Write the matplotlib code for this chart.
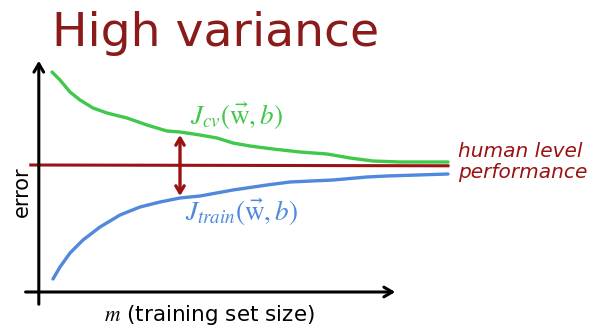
import numpy as np
import matplotlib.pyplot as plt

# values, in units where m axis origin = 0
cv_m = [0.35, 0.55, 0.8, 1.05, 1.375, 1.725, 2.225, 2.725, 3.225, 3.55, 4.05, 4.475,
        4.875, 5.3, 5.875, 6.55, 7.225, 7.8, 8.375, 9.05, 10.25]
cv_err = [2.20, 2.12, 2.00, 1.92, 1.84, 1.79, 1.74, 1.67, 1.61, 1.60, 1.57, 1.54,
          1.49, 1.46, 1.43, 1.40, 1.38, 1.34, 1.31, 1.30, 1.30]

train_m = [0.375, 0.55, 0.8, 1.125, 1.55, 2.05, 2.55, 3.05, 3.55, 4.05, 4.875, 5.725,
           6.3, 7.375, 8.225, 8.725, 10.25]
train_err = [0.13, 0.25, 0.39, 0.52, 0.65, 0.77, 0.85, 0.90, 0.94, 0.96, 1.02, 1.07,
             1.10, 1.12, 1.15, 1.16, 1.18]

human_m = [-0.18, 10.25]
human_err = [1.27, 1.262]

gap_m = 3.55
gap_err = [1.57, 0.96]

red = '#9b1212'
green = '#3fc84a'
blue = '#4f88dc'

fig = plt.figure(figsize=(5.99, 3.33), dpi=100)
ax = fig.add_axes([0, 0, 1, 1])
ax.set_xlim(-38 / 40, (599 - 38) / 40)
ax.set_ylim(-0.41, 2.92)
ax.axis('off')

# axes arrows
ax.annotate('', xy=(0.02, 2.34), xytext=(0.02, -0.15),
            arrowprops=dict(arrowstyle='->,head_length=0.6,head_width=0.35', color='black', lw=2.2))
ax.annotate('', xy=(9.0, 0.0), xytext=(-0.38, 0.0),
            arrowprops=dict(arrowstyle='->,head_length=0.6,head_width=0.35', color='black', lw=2.2))

ax.plot(cv_m, cv_err, color=green, lw=2.4, solid_capstyle='round', solid_joinstyle='round')
ax.plot(train_m, train_err, color=blue, lw=2.4, solid_capstyle='round', solid_joinstyle='round')
ax.plot(human_m, human_err, color=red, lw=2.2)

ax.annotate('', xy=(gap_m, gap_err[0]), xytext=(gap_m, gap_err[1]),
            arrowprops=dict(arrowstyle='<->,head_length=0.5,head_width=0.3', color=red, lw=2.4,
                            shrinkA=0, shrinkB=0))

plt.rcParams['mathtext.fontset'] = 'stix'
ax.text(3.8, 1.76, r'$J_{cv}(\vec{\mathrm{w}}, b)$', color=green, fontsize=19.5, va='center', ha='left')
ax.text(3.68, 0.80, r'$J_{train}(\vec{\mathrm{w}}, b)$', color=blue, fontsize=19.5, va='center', ha='left')

ax.text(10.5, 1.30, 'human level\nperformance', color=red, fontsize=14.5, style='italic',
        va='center', ha='left', linespacing=1.1)

fig.text(52 / 599, 1 - 33 / 333, 'High variance', color='#8b1a1a', fontsize=34,
         va='center', ha='left')

ax.text(-0.4, 1.0, 'error', rotation=90, fontsize=15, va='center', ha='center')
ax.text(1.65, -0.23, r'$m$ (training set size)', fontsize=15.5, va='center', ha='left')

fig.savefig('out.png', dpi=100)
